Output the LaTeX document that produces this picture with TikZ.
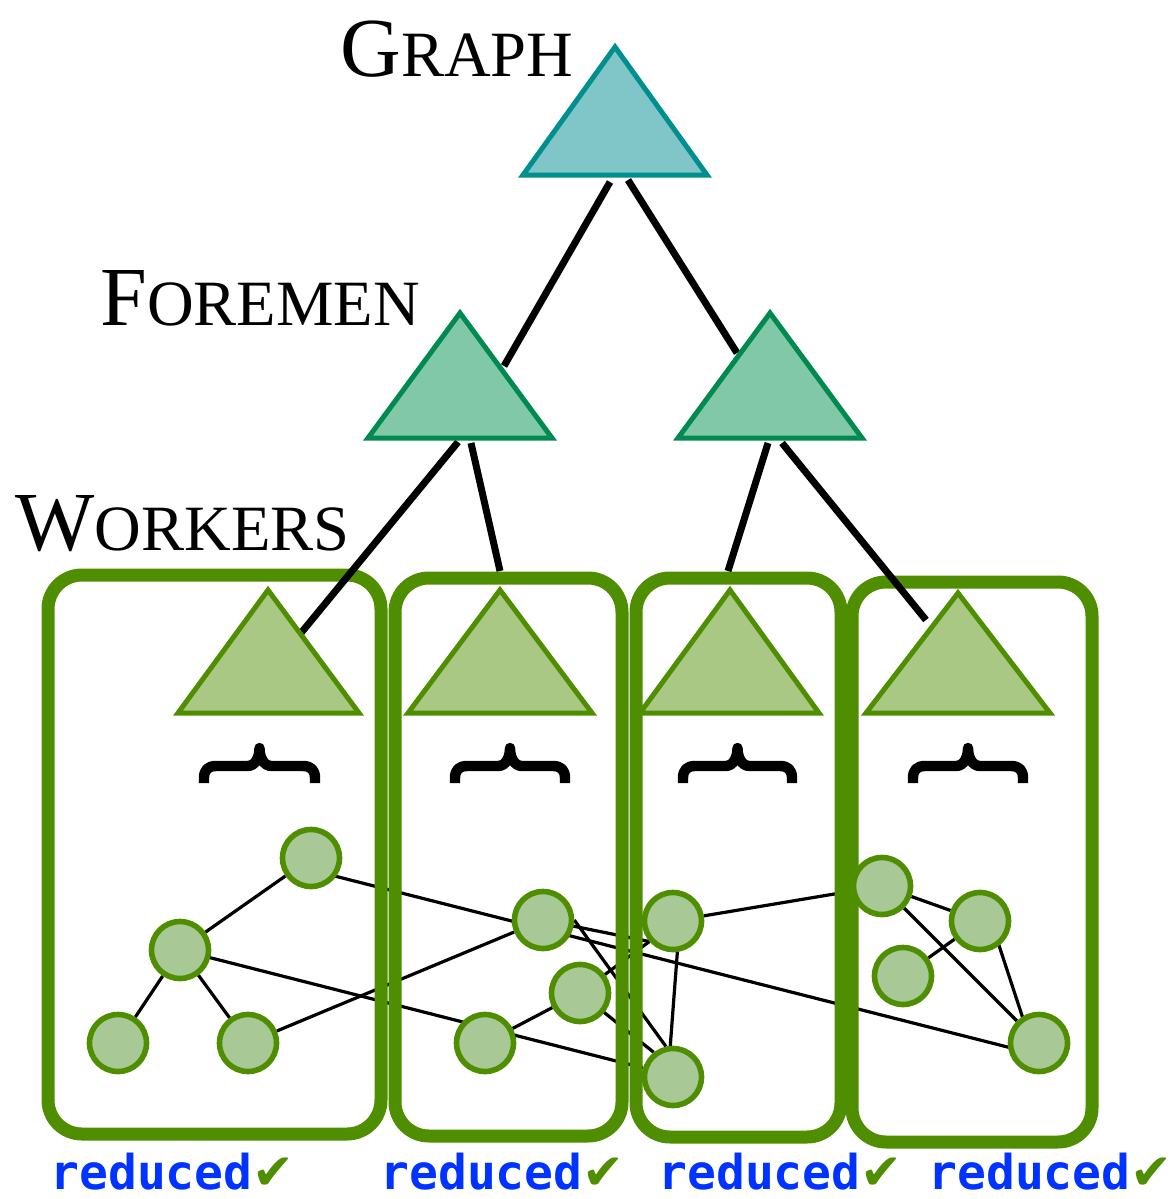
\documentclass[tikz,border=0pt]{standalone}
\usepackage{fontspec}
\newfontfamily\codefont{DejaVu Sans Mono}
\newfontfamily\symfont{DejaVu Sans}
\newfontfamily\headfont{Liberation Serif}

\definecolor{leaf}{RGB}{78,142,0}
\definecolor{workerfill}{RGB}{168,200,132}
\definecolor{nodefill}{RGB}{168,200,150}
\definecolor{foremanfill}{RGB}{128,200,168}
\definecolor{foremanline}{RGB}{0,138,80}
\definecolor{graphfill}{RGB}{128,198,200}
\definecolor{graphline}{RGB}{0,142,142}
\definecolor{codeblue}{RGB}{0,51,255}

\pgfdeclarelayer{edges}
\pgfdeclarelayer{boxes}
\pgfdeclarelayer{links}
\pgfsetlayers{edges,boxes,links,main}

% caps-and-small-caps heading: big initial, smaller capitals after it
\newcommand\headword[2]{{\headfont\fontsize{42}{42}\selectfont #1}{\headfont\fontsize{32.3}{32.3}\selectfont #2}}
\newcommand\reducedmark{{\codefont\bfseries\color{codeblue}reduced}{\symfont\color{leaf}\fontsize{25}{25}\selectfont ✔}}
% horizontal curly brace, tip up: left x, right x, bottom y
\newcommand\curlybrace[3]{%
  \pgfmathsetmacro\bmid{(#1+#2)/2}%
  \draw[curly] (#1,#3) -- ++(0,-5)
    .. controls +(0,-8) and +(-8,0) .. ++(12,-12)
    -- (\bmid-12,#3-17)
    .. controls +(8,0) and +(0,9) .. (\bmid,#3-35)
    .. controls +(0,9) and +(-8,0) .. (\bmid+12,#3-17)
    -- (#2-12,#3-17)
    .. controls +(8,0) and +(0,-8) .. (#2,#3-5)
    -- (#2,#3);}

\begin{document}
\begin{tikzpicture}[x=0.5pt,y=-0.5pt,
  heading/.style={anchor=base west,inner sep=0pt},
  graphtri/.style={draw=graphline,fill=graphfill,line width=2.5pt},
  foremantri/.style={draw=foremanline,fill=foremanfill,line width=2.5pt},
  workertri/.style={draw=leaf,fill=workerfill,line width=2.5pt},
  link/.style={line width=3.5pt,black},
  workerbox/.style={draw=leaf,line width=6.5pt,rounded corners=17pt},
  curly/.style={line width=5.2pt,line join=round,black},
  vertex/.style={circle,draw=leaf,fill=nodefill,line width=2.8pt,minimum size=28.5pt,inner sep=0pt},
  edge/.style={line width=1.6pt,black},
  status/.style={anchor=base west,inner sep=0pt,text depth=0pt,font=\fontsize{24}{24}\selectfont}
]
\useasboundingbox (0,0) rectangle (1176,1199);

% level headings
\node[heading] (graphlabel) at (340,76) {\headword{G}{RAPH}};
\node[heading] (foremenlabel) at (100,325) {\headword{F}{OREMEN}};
\node[heading] (workerslabel) at (15,550) {\headword{W}{ORKERS}};

% hierarchy triangles
\draw[graphtri] (615,47) -- (707,175) -- (523,175) -- cycle;
\draw[foremantri] (460,313) -- (552,438) -- (368,438) -- cycle;
\draw[foremantri] (770,313) -- (862,438) -- (678,438) -- cycle;
\draw[workertri] (268,590) -- (359,713) -- (178,713) -- cycle;
\draw[workertri] (500,590) -- (592,713) -- (408,713) -- cycle;
\draw[workertri] (730,590) -- (819,713) -- (640,713) -- cycle;
\draw[workertri] (958,593) -- (1050,713) -- (866,713) -- cycle;

% ends of the tree links
\coordinate (graph-l) at (610,182);
\coordinate (graph-r) at (628,180);
\coordinate (foreman1-top) at (504,366);
\coordinate (foreman2-top) at (737,353);
\coordinate (foreman1-l) at (458,442);
\coordinate (foreman1-r) at (471,443);
\coordinate (foreman2-l) at (768,443);
\coordinate (foreman2-r) at (782,443);
\coordinate (worker1-top) at (301,633);
\coordinate (worker2-top) at (500,571);
\coordinate (worker3-top) at (728,571);
\coordinate (worker4-top) at (926,620);

\begin{pgfonlayer}{links}
\draw[link] (graph-l) -- (foreman1-top);
\draw[link] (graph-r) -- (foreman2-top);
\draw[link] (foreman1-l) -- (worker1-top);
\draw[link] (foreman1-r) -- (worker2-top);
\draw[link] (foreman2-l) -- (worker3-top);
\draw[link] (foreman2-r) -- (worker4-top);
\end{pgfonlayer}

% worker partitions
\begin{pgfonlayer}{boxes}
\draw[workerbox] (48,575) rectangle (381,1134);
\draw[workerbox] (395,578) rectangle (622,1136);
\draw[workerbox] (636,578) rectangle (841,1137);
\draw[workerbox] (852,582) rectangle (1092,1142);
\end{pgfonlayer}

% braces under each worker
\curlybrace{204}{315}{783}
\curlybrace{455}{565}{783}
\curlybrace{683}{792}{783}
\curlybrace{913}{1023}{783}

% graph vertices
\node[vertex] (c1) at (311,858) {};
\node[vertex] (c2) at (180,950) {};
\node[vertex] (c3) at (118,1043) {};
\node[vertex] (c4) at (248,1043) {};
\node[vertex] (c5) at (543,920) {};
\node[vertex] (c6) at (580,993) {};
\node[vertex] (c7) at (485,1043) {};
\node[vertex] (c8) at (673,921) {};
\node[vertex] (c9) at (673,1077) {};
\node[vertex] (c10) at (882,886) {};
\node[vertex] (c11) at (980,921) {};
\node[vertex] (c12) at (903,976) {};
\node[vertex] (c13) at (1039,1043) {};

% graph edges
\begin{pgfonlayer}{edges}
\draw[edge] (c1) -- (c2);
\draw[edge] (c2) -- (c3);
\draw[edge] (c2) -- (c4);
\draw[edge] (c2.center) -- (c9.163);
\draw[edge] ([yshift=-6pt]c1.center) -- ([yshift=-6pt]c13.center);
\draw[edge] (c4) -- (c5);
\draw[edge] (c5.east) -- (c9.103);
\draw[edge] (c5.center) -- (c8.221);
\draw[edge] (c7) -- (c6);
\draw[edge] (c6.center) -- (c8.221);
\draw[edge] (c6.center) -- (c9.128);
\draw[edge] (c8.-82) -- (c9.95);
\draw[edge] (c8) -- (c10);
\draw[edge] (c10) -- (c11);
\draw[edge] (c10) -- (c13);
\draw[edge] ([xshift=5.5pt]c11.center) -- ([xshift=-4pt]c13.center);
\draw[edge] (c11) -- (c12);
\end{pgfonlayer}

% status labels
\node[status] (status1) at (50,1189) {\reducedmark};
\node[status] (status2) at (380,1189) {\reducedmark};
\node[status] (status3) at (658,1189) {\reducedmark};
\node[status] (status4) at (928,1189) {\reducedmark};
\end{tikzpicture}
\end{document}
